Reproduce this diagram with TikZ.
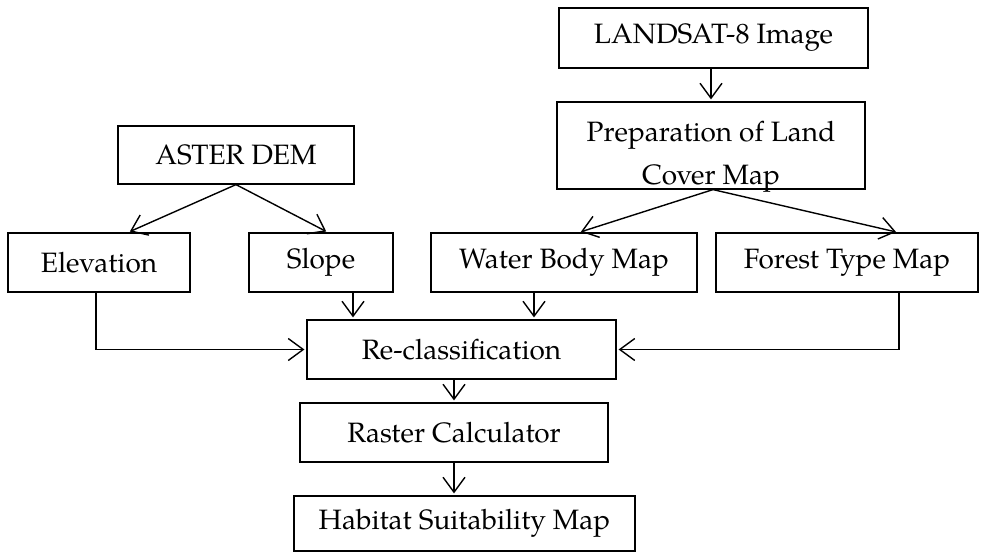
\documentclass[tikz,border=0pt]{standalone}
\usepackage{fontspec}
\setmainfont{TeX Gyre Pagella}
\usetikzlibrary{arrows.meta}
\tikzset{
  stepbox/.style={draw,line width=1.2pt,inner sep=0pt,align=center,font=\fontsize{28}{43}\selectfont},
  flow/.style={->,line width=1.4pt,shorten >=2pt}
}
\begin{document}
\begin{tikzpicture}[x=1pt,y=-1pt,>={Straight Barb[length=15pt,width=22pt]}]
        \useasboundingbox (0,0) rectangle (981,552);
        % sources
        \node[stepbox,minimum width=309pt,minimum height=60pt] (landsat) at (713.5,38) {LANDSAT-8 Image};
        \node[stepbox,minimum width=308pt,minimum height=87pt] (prep) at (711,145.5) {};
        \node[font=\fontsize{28}{43}\selectfont,align=center,inner sep=0pt] (preptext) at (711,157) {Preparation of Land\\Cover Map};
        \node[stepbox,minimum width=236pt,minimum height=58pt] (aster) at (236,155) {ASTER DEM};
        % derived layers
        \node[stepbox,minimum width=182pt,minimum height=59pt] (elev) at (99,262.5) {Elevation};
        \node[stepbox,minimum width=144pt,minimum height=59pt] (slope) at (321,262.5) {Slope};
        \node[stepbox,minimum width=266pt,minimum height=59pt] (water) at (564,262.5) {Water Body Map};
        \node[stepbox,minimum width=262pt,minimum height=59pt] (forest) at (847,262.5) {Forest Type Map};
        % processing
        \node[stepbox,minimum width=309pt,minimum height=59pt] (reclass) at (461.5,349.5) {Re-classification};
        \node[stepbox,minimum width=308pt,minimum height=59pt] (raster) at (454,432.5) {Raster Calculator};
        \node[stepbox,minimum width=341pt,minimum height=55pt] (habitat) at (464.5,523.5) {Habitat Suitability Map};
        % arrows
        \draw[flow] (landsat.south -| prep.north) -- (prep.north);
        \draw[flow] (aster.south) -- ([xshift=29pt]elev.north);
        \draw[flow] (aster.south) -- ([xshift=7pt]slope.north);
        \draw[flow] ([xshift=2pt]prep.south) -- ([xshift=15pt]water.north);
        \draw[flow] ([xshift=2pt]prep.south) -- ([xshift=51pt]forest.north);
        \draw[flow] ([xshift=32pt]slope.south) -- ([xshift=32pt]slope.south |- reclass.north);
        \draw[flow] ([xshift=-30pt]water.south) -- ([xshift=-30pt]water.south |- reclass.north);
        \draw[flow] ([xshift=-3pt]elev.south) |- (reclass.west);
        \draw[flow] ([xshift=52pt]forest.south) |- (reclass.east);
        \draw[flow] (reclass.south -| raster.north) -- (raster.north);
        \draw[flow] (raster.south) -- (raster.south |- habitat.north);
\end{tikzpicture}
\end{document}
